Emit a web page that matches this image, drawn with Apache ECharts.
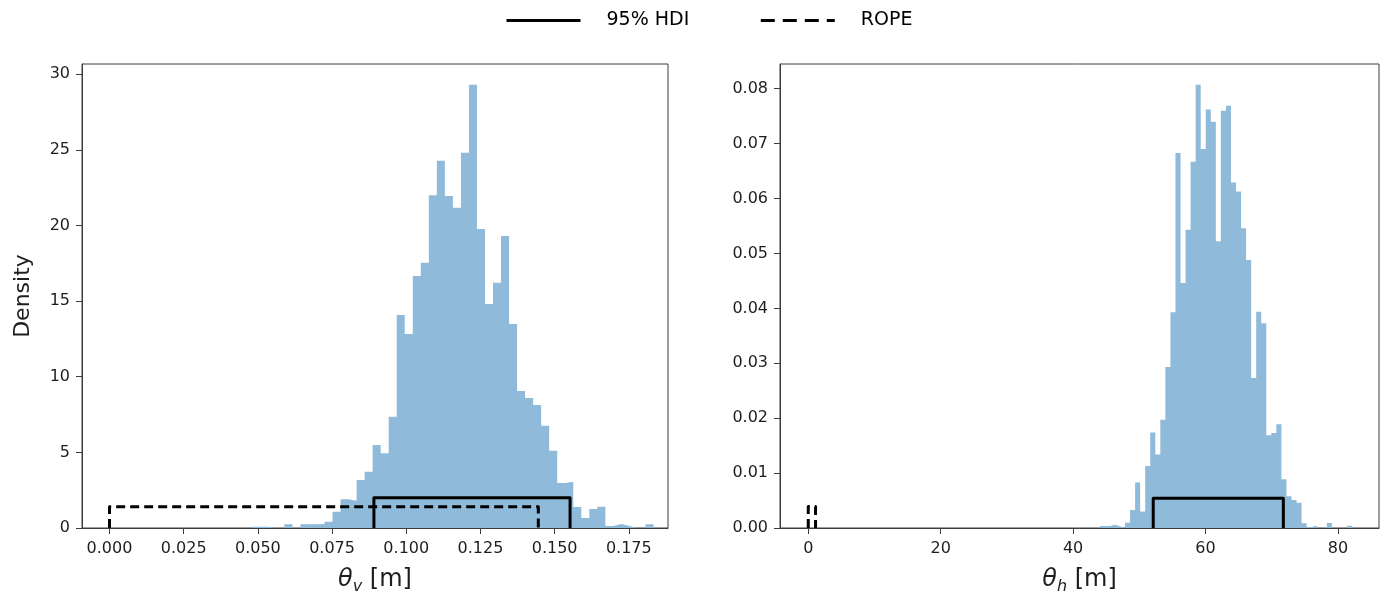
<!DOCTYPE html>
<html>
<head>
<meta charset="utf-8">
<script src="https://cdn.jsdelivr.net/npm/echarts@6/dist/echarts.min.js"></script>
<style>
  html, body { margin: 0; padding: 0; background: #ffffff; }
  #chart { width: 1388px; height: 596px; }
</style>
</head>
<body>
<div id="chart"></div>
<script>
// ---------- data ----------
// Left panel: theta_v histogram (50 bins)
const leftBinStart = 0.04811;
const leftBinWidth = 0.002704;
const leftDensity = [
  0.09, 0.09, 0, 0, 0.24, 0, 0.24, 0.24, 0.27, 0.42,
  1.08, 1.90, 1.80, 3.17, 3.72, 5.49, 4.94, 7.36, 14.08, 12.82,
  16.66, 17.53, 22.0, 24.28, 21.94, 21.17, 24.8, 29.3, 19.76, 14.8,
  16.21, 19.3, 13.48, 9.05, 8.59, 8.13, 6.76, 5.11, 2.97, 3.06,
  1.39, 0.66, 1.26, 1.41, 0.13, 0.26, 0.13, 0, 0, 0.24
];
const leftHDI = [0.0891, 0.1552];
const leftHDIHeight = 2.0;
const leftROPE = [0.0, 0.1445];
const leftROPEHeight = 1.41;
const leftXTicks = [0, 0.025, 0.05, 0.075, 0.1, 0.125, 0.15, 0.175];
const leftYTicks = [0, 5, 10, 15, 20, 25, 30];

// Right panel: theta_h histogram (50 bins)
const rightBinStart = 44.03;
const rightBinWidth = 0.762;
const rightDensity = [
  0.00036, 0.00036, 0.0006, 0.0003, 0, 0.00097, 0.0033, 0.0083, 0.0030, 0.0113,
  0.0174, 0.0134, 0.0197, 0.0293, 0.0393, 0.0683, 0.0446, 0.0543, 0.0667, 0.0807,
  0.0690, 0.0762, 0.0740, 0.0522, 0.0760, 0.0769, 0.0629, 0.0613, 0.0546, 0.0488,
  0.0273, 0.0394, 0.0373, 0.0169, 0.0173, 0.0189, 0.0089, 0.0058, 0.0051, 0.0046,
  0.00086, 0.0002, 0.0004, 0, 0.0002, 0.0009, 0, 0, 0, 0.0004
];
const rightHDI = [52.1, 71.75];
const rightHDIHeight = 0.0054;
const rightROPE = [0.0, 1.1];
const rightROPEHeight = 0.0039;
const rightXTicks = [0, 20, 40, 60, 80];
const rightYTicks = [0, 0.01, 0.02, 0.03, 0.04, 0.05, 0.06, 0.07, 0.08];

const legendNames = ['95% HDI', 'ROPE'];

// ---------- helpers ----------
function stepData(start, width, dens) {
  const pts = dens.map((d, i) => [start + i * width, d]);
  pts.push([start + dens.length * width, dens[dens.length - 1]]);
  return pts;
}
function boxData(range, h) {
  return [[range[0], 0], [range[0], h], [range[1], h], [range[1], 0]];
}

const FONT = 'DejaVu Sans';
const TXT = '#1e1e1e';
const FRAME = '#3c3c3c';
const BAR = '#8fbad9';

function xAxisCfg(grid, min, max, ticks, fmt, sub) {
  return {
    type: 'value', gridIndex: grid, min: min, max: max,
    name: '{t|θ}{s|' + sub + '}{r| [m]}',
    nameLocation: 'middle', nameGap: 36,
    nameTextStyle: {
      color: TXT, fontFamily: FONT, fontSize: 24,
      rich: {
        t: { fontFamily: FONT, fontSize: 24, fontStyle: 'italic', color: TXT },
        s: { fontFamily: FONT, fontSize: 16, fontStyle: 'italic', color: TXT, verticalAlign: 'bottom', padding: [15, 0, 0, 0] },
        r: { fontFamily: FONT, fontSize: 24, color: TXT }
      }
    },
    axisLine: { show: true, onZero: false, lineStyle: { color: FRAME, width: 1 } },
    axisTick: { show: true, length: 6, customValues: ticks, lineStyle: { color: FRAME, width: 1 } },
    axisLabel: { customValues: ticks, formatter: fmt, color: TXT, fontFamily: FONT, fontSize: 16, margin: 13 },
    splitLine: { show: false }
  };
}
function yAxisCfg(grid, max, ticks, fmt, name) {
  return {
    type: 'value', gridIndex: grid, min: 0, max: max,
    name: name, nameLocation: 'middle', nameGap: 48,
    nameTextStyle: { color: TXT, fontFamily: FONT, fontSize: 22 },
    axisLine: { show: true, onZero: false, lineStyle: { color: FRAME, width: 1 } },
    axisTick: { show: true, length: 6, customValues: ticks, lineStyle: { color: FRAME, width: 1 } },
    axisLabel: { customValues: ticks, formatter: fmt, color: TXT, fontFamily: FONT, fontSize: 16, margin: 12 },
    splitLine: { show: false }
  };
}

function histSeries(axis, data) {
  return {
    type: 'line', xAxisIndex: axis, yAxisIndex: axis, step: 'end',
    data: data, symbol: 'none', showSymbol: false, silent: true, z: 1,
    lineStyle: { width: 0, color: BAR },
    itemStyle: { color: BAR },
    areaStyle: { color: BAR, opacity: 1 },
    animation: false
  };
}
function outlineSeries(axis, name, data, dashed) {
  return {
    type: 'line', name: name, xAxisIndex: axis, yAxisIndex: axis,
    data: data, symbol: 'none', showSymbol: false, silent: true, z: 5,
    lineStyle: { color: '#000', width: 3, type: dashed ? [9, 5] : 'solid', join: 'round' },
    itemStyle: { color: '#000' },
    animation: false
  };
}

const chart = echarts.init(document.getElementById('chart'), null, { renderer: 'canvas' });
chart.setOption({
  animation: false,
  backgroundColor: '#ffffff',
  legend: {
    show: true,
    orient: 'horizontal',
    top: 6, left: 500,
    icon: 'inherit',
    itemWidth: 74, itemHeight: 14, itemGap: 70,
    itemStyle: { opacity: 0 },
    textStyle: { fontFamily: FONT, fontSize: 19, color: '#000', padding: [0, 0, 0, 21] },
    data: [
      { name: legendNames[0], lineStyle: { width: 3 } },
      { name: legendNames[1], lineStyle: { width: 3, type: [14, 8] } }
    ]
  },
  grid: [
    { left: 82, top: 64, width: 586, height: 464, show: true, borderColor: FRAME, borderWidth: 1, backgroundColor: 'transparent', outerBoundsMode: 'none', containLabel: false },
    { left: 780, top: 64, width: 599, height: 464, show: true, borderColor: FRAME, borderWidth: 1, backgroundColor: 'transparent', outerBoundsMode: 'none', containLabel: false }
  ],
  xAxis: [
    xAxisCfg(0, -0.00927, 0.1882, leftXTicks, v => v.toFixed(3), 'v'),
    xAxisCfg(1, -4.27, 86.2, rightXTicks, v => String(Math.round(v)), 'h')
  ],
  yAxis: [
    yAxisCfg(0, 30.67, leftYTicks, v => String(Math.round(v)), 'Density'),
    yAxisCfg(1, 0.0845, rightYTicks, v => v.toFixed(2), '')
  ],
  series: [
    histSeries(0, stepData(leftBinStart, leftBinWidth, leftDensity)),
    histSeries(1, stepData(rightBinStart, rightBinWidth, rightDensity)),
    outlineSeries(0, legendNames[0], boxData(leftHDI, leftHDIHeight), false),
    outlineSeries(0, legendNames[1], boxData(leftROPE, leftROPEHeight), true),
    outlineSeries(1, legendNames[0], boxData(rightHDI, rightHDIHeight), false),
    outlineSeries(1, legendNames[1], boxData(rightROPE, rightROPEHeight), true)
  ]
});
</script>
</body>
</html>
